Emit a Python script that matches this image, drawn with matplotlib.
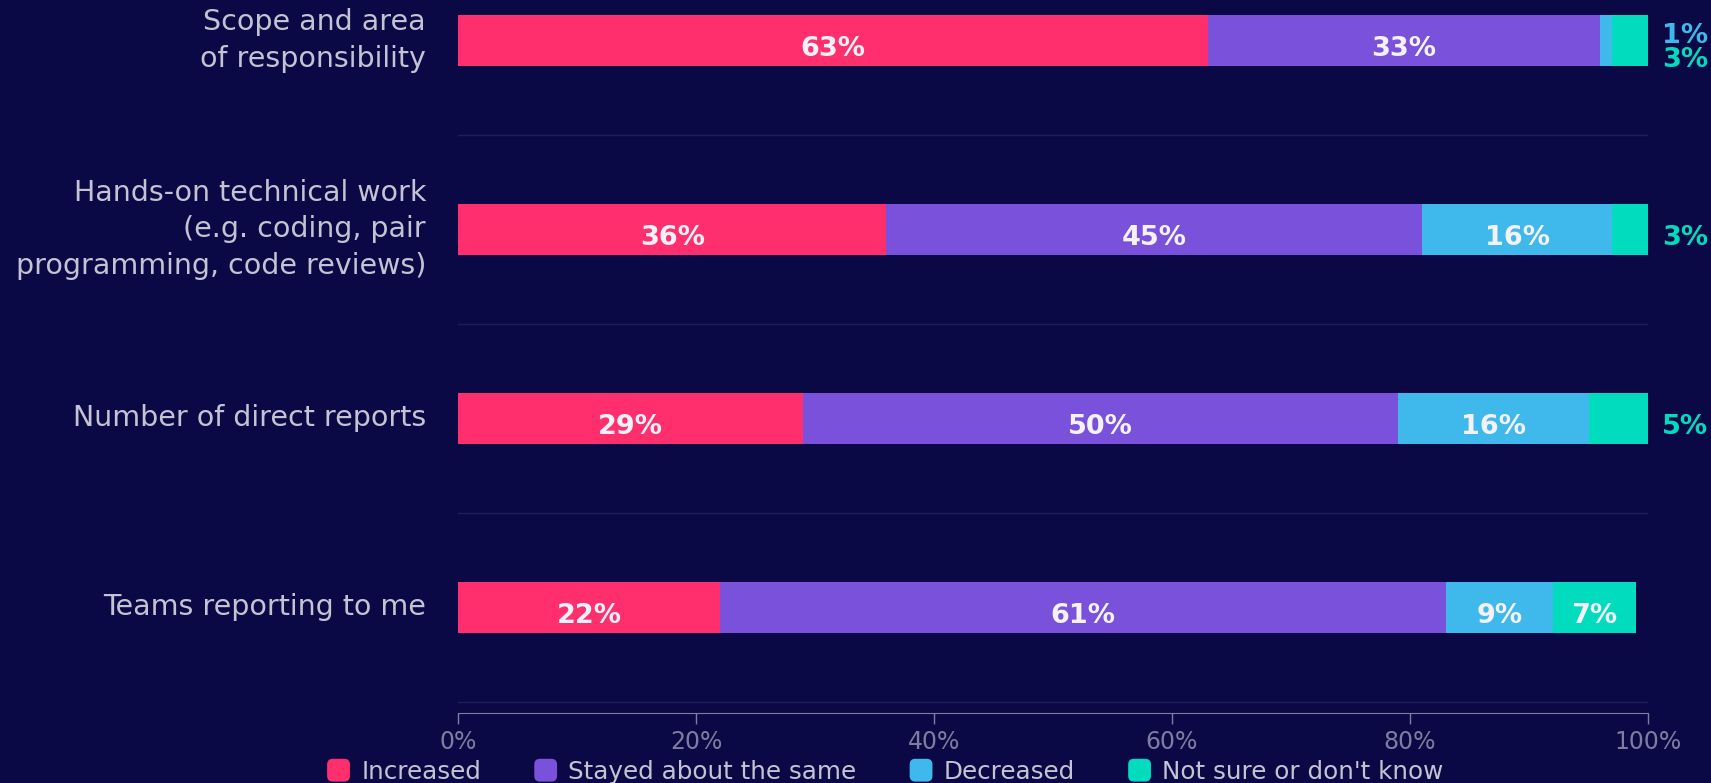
import matplotlib.pyplot as plt
from matplotlib.patches import FancyBboxPatch
from matplotlib.legend_handler import HandlerPatch

categories = ['Scope and area\nof responsibility',
              'Hands-on technical work\n(e.g. coding, pair\nprogramming, code reviews)',
              'Number of direct reports',
              'Teams reporting to me']
series_names = ['Increased', 'Stayed about the same', 'Decreased', "Not sure or don't know"]
increased = [63, 36, 29, 22]
same = [33, 45, 50, 61]
decreased = [1, 16, 16, 9]
not_sure = [3, 3, 5, 7]
xticks = [0, 20, 40, 60, 80, 100]

BG = '#0b0945'
colors = ['#ff2f6d', '#7951db', '#3fb9ec', '#01dcbf']


class RoundHandler(HandlerPatch):
    def create_artists(self, legend, orig_handle, xdescent, ydescent, width, height, fontsize, trans):
        s = min(width, height)
        p = FancyBboxPatch((-xdescent + (width - s) / 2, -ydescent + (height - s) / 2), s, s,
                           boxstyle='round,pad=0,rounding_size=%f' % (s * 0.25),
                           facecolor=orig_handle.get_facecolor(), edgecolor='none', transform=trans)
        return [p]


def main():
    fig = plt.figure(figsize=(17.11, 7.83), dpi=100, facecolor=BG)
    ax = fig.add_axes([458 / 1711, 1 - 713 / 783, (1648 - 458) / 1711, 713 / 783])
    ax.set_facecolor(BG)

    series = [increased, same, decreased, not_sure]
    ypos = list(range(len(categories)))
    left = [0] * len(categories)
    for vals, col in zip(series, colors):
        ax.barh(ypos, vals, left=left, height=0.27, color=col, linewidth=0)
        for i, v in enumerate(vals):
            if v >= 7:
                ax.text(left[i] + v / 2, ypos[i] + 0.045, f'{v}%', ha='center', va='center',
                        color='#f4f2f8', fontsize=19.5, fontweight='bold')
        left = [l + v for l, v in zip(left, vals)]

    # small segments get their labels outside the bar, in the segment colour
    for i in ypos:
        small = [(s[i], c) for s, c in zip(series, colors) if s[i] < 7]
        if len(small) == 1:
            ax.text(101.2, i + 0.045, f'{small[0][0]}%', ha='left', va='center',
                    color=small[0][1], fontsize=19.5, fontweight='bold')
        elif len(small) == 2:
            for k, (v, c) in enumerate(small):
                ax.text(101.2, i - 0.025 + 0.128 * k, f'{v}%', ha='left', va='center',
                        color=c, fontsize=19.5, fontweight='bold')

    for g in [0.5, 1.5, 2.5, 3.5]:
        ax.axhline(g, color='#1f1d5c', linewidth=1, zorder=0)

    ax.set_ylim(3.56, -0.214)
    ax.set_xlim(0, 100)
    ax.set_yticks(ypos)
    ax.set_yticklabels(categories, fontsize=20.5, color='#c4c3d3', linespacing=1.4, va='center')
    ax.tick_params(axis='y', length=0, pad=23)
    ax.set_xticks(xticks)
    ax.set_xticklabels([f'{t}%' for t in xticks], fontsize=17, color='#7e7c9f')
    ax.tick_params(axis='x', colors='#7e7c9f', length=8, width=1, pad=4)
    for sp in ['top', 'right', 'left']:
        ax.spines[sp].set_visible(False)
    ax.spines['bottom'].set_color('#7e7c9f')

    handles = [plt.Rectangle((0, 0), 1, 1, facecolor=c, label=n) for c, n in zip(colors, series_names)]
    fig.legend(handles=handles, loc='lower center', bbox_to_anchor=(0.517, -0.029), ncol=4,
               frameon=False, fontsize=17.7, labelcolor='#c4c3d3', handlelength=1.05,
               handleheight=1.05, handletextpad=0.4, columnspacing=2.1,
               handler_map={plt.Rectangle: RoundHandler()})

    fig.savefig('out.png', dpi=100, facecolor=BG)


if __name__ == '__main__':
    main()
